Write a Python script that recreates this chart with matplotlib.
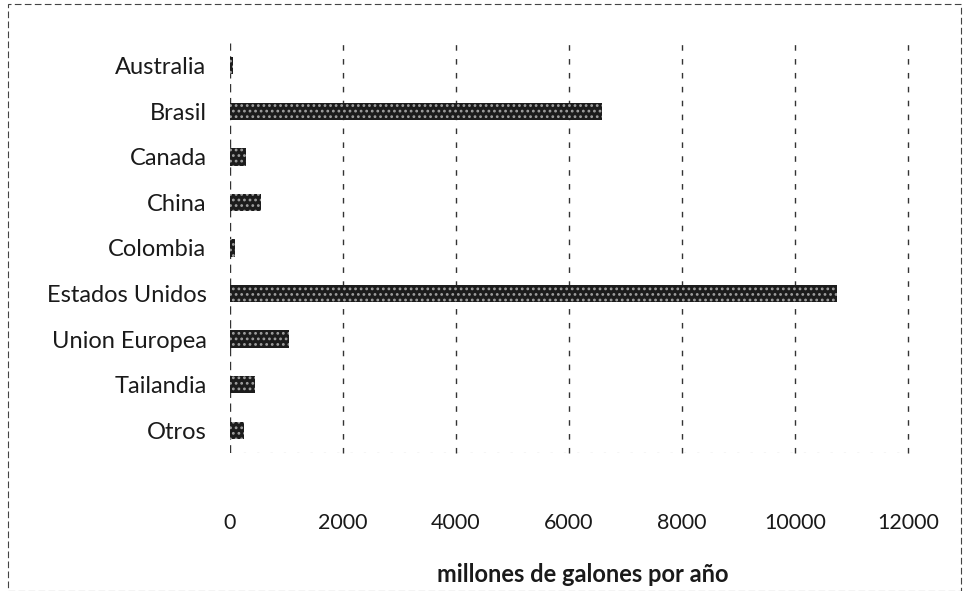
import matplotlib
matplotlib.use("Agg")
import matplotlib.pyplot as plt
from matplotlib.patches import Rectangle

categories = ["Australia", "Brasil", "Canada", "China", "Colombia",
              "Estados Unidos", "Union Europea", "Tailandia", "Otros"]
values = [57, 6578, 291, 542, 83, 10750, 1040, 435, 247]
xticks = [0, 2000, 4000, 6000, 8000, 10000, 12000]
xlabel = "millones de galones por año"

plt.rcParams['font.family'] = ['Lato', 'DejaVu Sans']
plt.rcParams['hatch.linewidth'] = 1.2

fig = plt.figure(figsize=(9.63, 5.91), dpi=100)
ax = fig.add_axes([230/963, 1-453/591, (908-230)/963, (453-43)/591])

ypos = list(range(len(categories)))
ax.barh(ypos, values, height=0.38, color='#1c1c1c', edgecolor='#a0a0a0',
        hatch='...', linewidth=0, zorder=3)
ax.set_ylim(len(categories)-0.5, -0.5)
ax.set_xlim(0, 12000)
ax.set_yticks(ypos)
ax.set_yticklabels(categories, fontsize=17, color='#1a1a1a')
ax.set_xticks(xticks)
ax.set_xticklabels([str(t) for t in xticks], fontsize=15.5, color='#1a1a1a')
ax.tick_params(axis='x', length=0, pad=43)
ax.tick_params(axis='y', length=0, pad=17)
ax.set_xlabel(xlabel, fontsize=17, fontweight='bold', color='#1a1a1a',
              labelpad=22)
ax.xaxis.label.set_x(0.52)

for t in xticks[1:]:
    ax.axvline(t, color='#333333', linewidth=1.0, linestyle=(0, (4, 6)),
               zorder=1, clip_on=False)
ax.axvline(0, color='#333333', linewidth=1.0, linestyle=(0, (6, 4)), zorder=2)
ax.axhline(len(categories)-0.5, color='#555555', linewidth=0.8,
           linestyle=(0, (2, 10)), zorder=1)
for s in ax.spines.values():
    s.set_visible(False)

fig.patches.append(Rectangle((8/963, 0), 1-8/963-2/963, 1-4/591,
                             transform=fig.transFigure, fill=False,
                             edgecolor='#444444', linewidth=0.8,
                             linestyle=(0, (6, 3))))

fig.savefig("out.png", dpi=100)
